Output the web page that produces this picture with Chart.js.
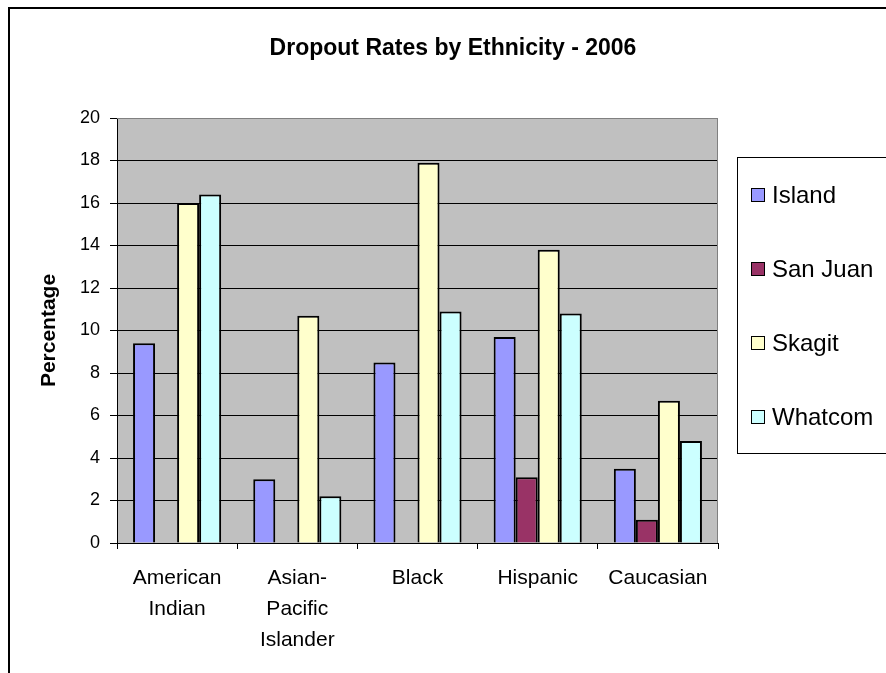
<!DOCTYPE html>
<html>
<head>
<meta charset="utf-8">
<script src="https://cdn.jsdelivr.net/npm/chart.js@4.4.1/dist/chart.umd.min.js"></script>
<style>
    body { margin: 0; background: #fff; }
    #wrap { width: 886px; height: 673px; }
</style>
</head>
<body>
<div id="wrap"><canvas id="myChart" width="886" height="673"></canvas></div>
<script>
// Data (percentages)
var categories = [["American", "Indian"], ["Asian-", "Pacific", "Islander"], "Black", "Hispanic", "Caucasian"];
var seriesNames = ["Island", "San Juan", "Skagit", "Whatcom"];
var island = [9.4, 3.0, 8.5, 9.7, 3.5];
var sanJuan = [0, 0, 0, 3.1, 1.1];
var skagit = [16.0, 10.7, 17.9, 13.8, 6.7];
var whatcom = [16.4, 2.2, 10.9, 10.8, 4.8];
var yMin = 0, yMax = 20, yStep = 2;

var colors = ['#9999FF', '#993366', '#FFFFCC', '#CCFFFF'];
var fontFamily = 'Arial, "Liberation Sans", sans-serif';

// Achtergrond, kader en grijs plotvlak
var backgroundPlugin = {
    id: 'background',
    beforeDraw: function(chart) {
        var ctx = chart.ctx;
        var area = chart.chartArea;
        ctx.save();
        ctx.fillStyle = '#fff';
        ctx.fillRect(0, 0, chart.width, chart.height);
        // outer chart border
        ctx.strokeStyle = '#000';
        ctx.lineWidth = 2;
        ctx.strokeRect(9, 8, 1000, 1000);
        // plot area
        ctx.fillStyle = '#C0C0C0';
        ctx.fillRect(area.left, area.top, area.right - area.left, area.bottom - area.top);
        ctx.restore();
    },
    afterDatasetsDraw: function(chart) {
        var ctx = chart.ctx;
        var area = chart.chartArea;
        ctx.save();
        ctx.strokeStyle = '#808080';
        ctx.lineWidth = 1;
        ctx.beginPath();
        ctx.moveTo(area.left, area.top + 0.5);
        ctx.lineTo(area.right - 0.5, area.top + 0.5);
        ctx.lineTo(area.right - 0.5, area.bottom);
        ctx.stroke();
        ctx.restore();
    }
};

// Titel, as-titel en legenda
var textPlugin = {
    id: 'texts',
    afterDraw: function(chart) {
        var ctx = chart.ctx;
        var area = chart.chartArea;
        ctx.save();
        ctx.fillStyle = '#000';
        ctx.textAlign = 'center';
        ctx.textBaseline = 'middle';
        ctx.font = 'bold 23px ' + fontFamily;
        ctx.fillText('Dropout Rates by Ethnicity - 2006', 453, 49);

        ctx.save();
        ctx.translate(49, (area.top + area.bottom) / 2);
        ctx.rotate(-Math.PI / 2);
        ctx.font = 'bold 21px ' + fontFamily;
        ctx.fillText('Percentage', 0, 0);
        ctx.restore();

        // legend box
        ctx.strokeStyle = '#000';
        ctx.lineWidth = 1;
        ctx.strokeRect(737.5, 157.5, 400, 296);
        ctx.textAlign = 'left';
        ctx.font = '24px ' + fontFamily;
        chart.data.datasets.forEach(function(ds, i) {
            var y = 195 + i * 74;
            ctx.fillStyle = ds.backgroundColor;
            ctx.fillRect(752, y - 6, 12, 12);
            ctx.strokeRect(751.5, y - 6.5, 13, 13);
            ctx.fillStyle = '#000';
            ctx.fillText(ds.label, 772, y + 1);
        });
        ctx.restore();
    }
};

var datasets = [island, sanJuan, skagit, whatcom].map(function(values, i) {
    return {
        label: seriesNames[i],
        data: values,
        backgroundColor: colors[i],
        borderColor: '#000',
        borderWidth: 2,
        categoryPercentage: 0.733,
        barPercentage: 1.0
    };
});

var myChart = new Chart(document.getElementById('myChart'), {
    type: 'bar',
    data: { labels: categories, datasets: datasets },
    options: {
        responsive: false,
        animation: false,
        devicePixelRatio: 1,
        layout: { padding: { top: 118, right: 168, left: 0, bottom: 0 } },
        plugins: {
            legend: { display: false },
            title: { display: false },
            tooltip: { enabled: false }
        },
        scales: {
            x: {
                afterFit: function(scale) { scale.height = 130; },
                grid: {
                    display: true,
                    drawOnChartArea: false,
                    drawTicks: true,
                    tickLength: 6,
                    tickColor: '#000',
                    offset: true
                },
                border: { display: true, color: '#000', width: 1 },
                ticks: {
                    color: '#000',
                    padding: 14,
                    maxRotation: 0,
                    autoSkip: false,
                    font: { family: fontFamily, size: 21, lineHeight: 1.47 }
                }
            },
            y: {
                min: yMin,
                max: yMax,
                afterFit: function(scale) { scale.width = 117; },
                grid: {
                    color: function(ctx) { return ctx.tick && ctx.tick.value === yMax ? '#808080' : '#000'; },
                    lineWidth: 1,
                    tickLength: 7,
                    tickColor: '#000'
                },
                border: { display: true, color: '#000', width: 1 },
                ticks: {
                    stepSize: yStep,
                    color: '#000',
                    padding: 10,
                    font: { family: fontFamily, size: 18 }
                }
            }
        }
    },
    plugins: [backgroundPlugin, textPlugin]
});
</script>
</body>
</html>
